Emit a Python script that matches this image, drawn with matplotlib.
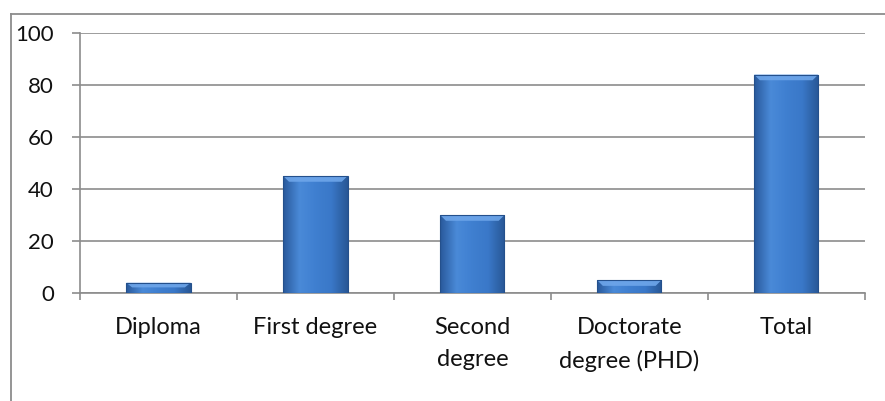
import numpy as np
import matplotlib.pyplot as plt
from matplotlib.colors import LinearSegmentedColormap
from matplotlib.patches import Polygon, Rectangle

plt.rcParams['font.family'] = ['Lato', 'DejaVu Sans']

categories = ['Diploma', 'First degree', 'Second\ndegree', 'Doctorate\ndegree (PHD)', 'Total']
values = [4, 45, 30, 5, 84]
y_ticks = [0, 20, 40, 60, 80, 100]

fig = plt.figure(figsize=(8.85, 4.01), dpi=100)
ax = fig.add_axes([0.0904, 0.269, 0.8866, 0.649])

# chart-area frame (only top and left edges fall inside the image)
fig.add_artist(plt.Line2D([0.0124, 0.0124], [0, 0.965], transform=fig.transFigure,
                          color='#8c8c8c', lw=1.3))
fig.add_artist(plt.Line2D([0.0124, 1.0], [0.965, 0.965], transform=fig.transFigure,
                          color='#8c8c8c', lw=1.3))

x = np.arange(len(categories))
width = 0.41
bars = ax.bar(x, values, width=width, color='#3a76c6', zorder=3)

# horizontal shading across each bar: darker edges, lighter middle
shade = LinearSegmentedColormap.from_list(
    'bevel', ['#2a5a9c', '#4a8ad8', '#3f7fd0', '#3a78c8', '#285796'])
grad = np.linspace(0, 1, 64).reshape(1, -1)
for b, v in zip(bars, values):
    x0 = b.get_x()
    w = b.get_width()
    im = ax.imshow(grad, cmap=shade, extent=[x0, x0 + w, 0, v], aspect='auto',
                   zorder=4, interpolation='bicubic')
    im.set_clip_path(b)
    # bevelled top edge
    bev = min(2.2, v * 0.45)
    inset = w * 0.09
    top = Polygon([[x0, v], [x0 + w, v], [x0 + w - inset, v - bev], [x0 + inset, v - bev]],
                  closed=True, facecolor='#6ea6ea', edgecolor='none', zorder=5, alpha=0.9)
    ax.add_patch(top)
    # thin dark outline for the bottom and sides
    ax.add_patch(Rectangle((x0, 0), w, v, fill=False, edgecolor='#24508c', lw=0.8, zorder=6))

ax.set_xlim(-0.5, len(categories) - 0.5)
ax.set_ylim(0, 100)
ax.set_yticks(y_ticks)
ax.set_yticklabels([str(t) for t in y_ticks])

# boundary ticks between categories, labels centred under the bars
ax.set_xticks(np.arange(len(categories) + 1) - 0.5)
ax.set_xticklabels([])
ax.set_xticks(x, minor=True)
ax.set_xticklabels(categories, minor=True, fontsize=17, color='#111111', linespacing=1.65)
ax.tick_params(axis='x', which='minor', length=0, pad=17)
ax.tick_params(axis='x', which='major', length=5, color='#8c8c8c', width=1.2)
ax.tick_params(axis='y', length=5.8, color='#8c8c8c', width=1.2, labelsize=16,
               pad=13, labelcolor='#111111')

ax.yaxis.grid(True, color='#8c8c8c', lw=1.2, zorder=0)
ax.set_axisbelow(True)
for side in ['top', 'right']:
    ax.spines[side].set_visible(False)
for side in ['left', 'bottom']:
    ax.spines[side].set_color('#8c8c8c')
    ax.spines[side].set_linewidth(1.2)

fig.savefig('out.png', dpi=100)
